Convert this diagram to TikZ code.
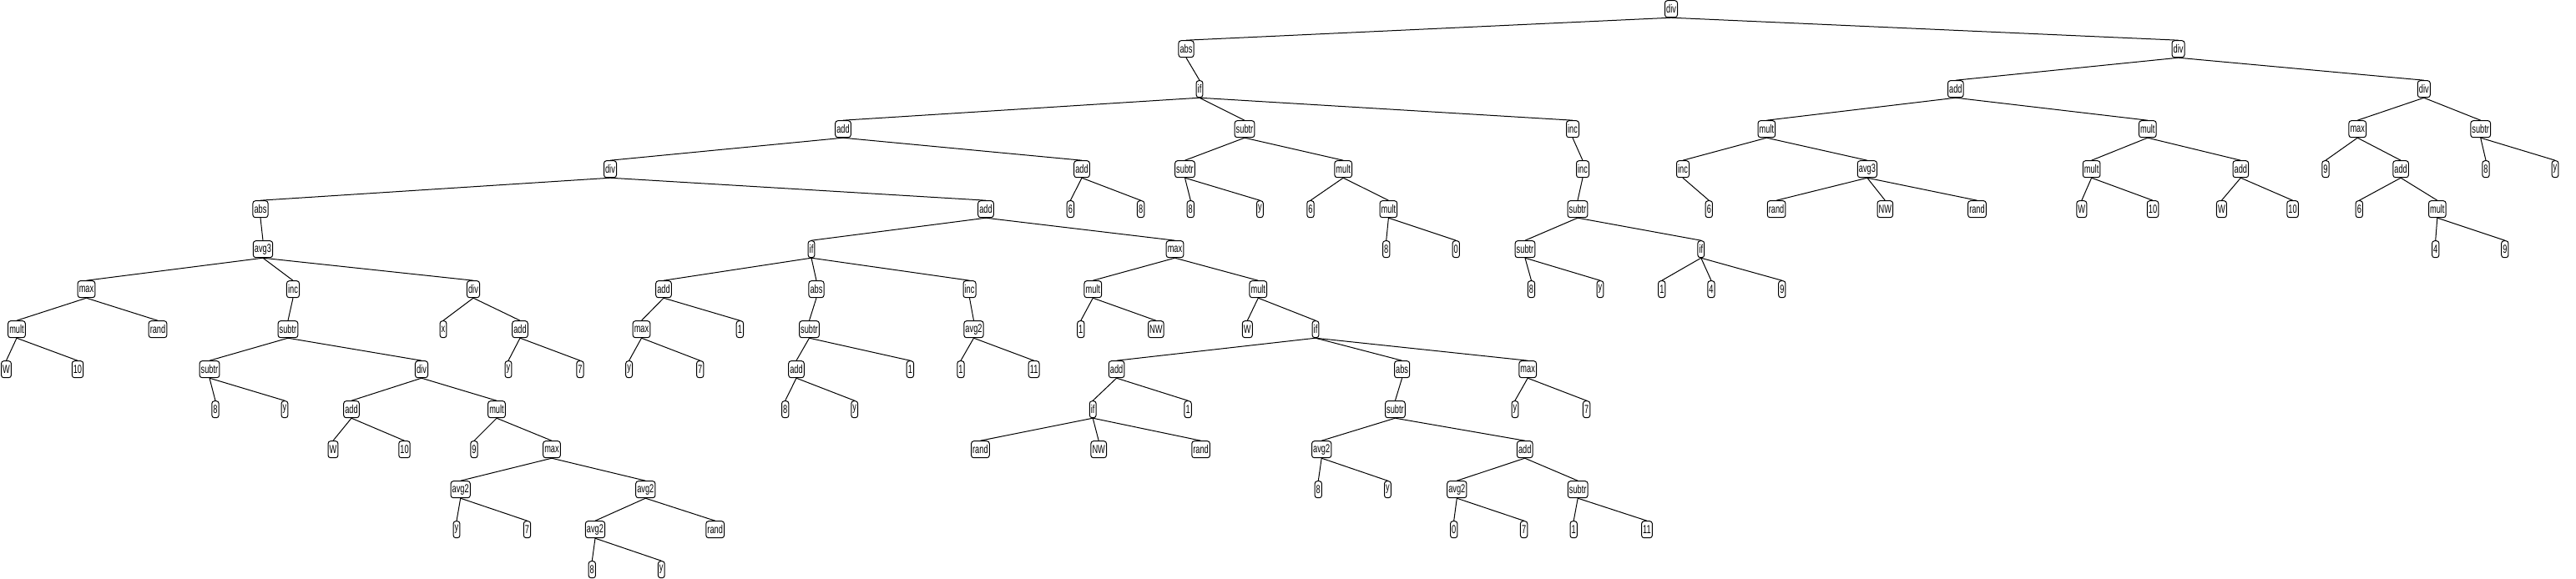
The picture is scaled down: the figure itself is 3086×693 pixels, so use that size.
\documentclass[tikz,border=0pt]{standalone}
\usepackage{fontspec}
\newfontfamily\nodefont[FakeStretch=0.66]{Liberation Sans}
\begin{document}
\begin{tikzpicture}[x=0.5pt,y=-0.5pt,
  nd/.style={draw, line width=0.5pt, rounded corners=1.5pt, inner xsep=0.8pt, inner ysep=0pt,
    minimum height=10pt, fill=white, font=\nodefont\fontsize{7}{8}\selectfont},
  edge/.style={line width=0.5pt}]
\useasboundingbox (0,0) rectangle (3086,693);
% levels: y = 10.7 + 48 L
% L0
\node[nd] (r) at (2002,10.7) {div};
% L1
\node[nd] (a) at (1421,58.7) {abs};
\node[nd] (R1) at (2609.5,58.7) {div};
% L2
\node[nd] (b) at (1437,106.7) {if};
\node[nd] (R2) at (2342.8,106.7) {add};
\node[nd] (R17) at (2903.8,106.7) {div};
% L3
\node[nd] (c1) at (1010,154.7) {add};
\node[nd] (c2) at (1491,154.7) {subtr};
\node[nd] (c3) at (1884,154.7) {inc};
\node[nd] (R3) at (2116.4,154.7) {mult};
\node[nd] (R10) at (2572.8,154.7) {mult};
\node[nd] (R18) at (2824.2,154.7) {max};
\node[nd] (R25) at (2971.7,154.7) {subtr};
% L4
\node[nd] (d1) at (731,202.7) {div};
\node[nd] (d2) at (1296,202.7) {add};
\node[nd] (d3) at (1419.5,202.7) {subtr};
\node[nd] (d4) at (1609.2,202.7) {mult};
\node[nd] (d5) at (1896,202.7) {inc};
\node[nd] (R4) at (2016,202.7) {inc};
\node[nd] (R6) at (2236.9,202.7) {avg3};
\node[nd] (R11) at (2505.6,202.7) {mult};
\node[nd] (R14) at (2684.3,202.7) {add};
\node[nd] (R19) at (2786,202.7) {9};
\node[nd] (R20) at (2876.1,202.7) {add};
\node[nd] (R26) at (2978,202.7) {8};
\node[nd] (R27) at (3061,202.7) {y};
% L5
\node[nd] (e1) at (312,250.7) {abs};
\node[nd] (e2) at (1181,250.7) {add};
\node[nd] (e3) at (1282.4,250.7) {6};
\node[nd] (e4) at (1366.6,250.7) {8};
\node[nd] (e5) at (1426.3,250.7) {8};
\node[nd] (e6) at (1509.4,250.7) {y};
\node[nd] (e7) at (1570,250.7) {6};
\node[nd] (e8) at (1663.4,250.7) {mult};
\node[nd] (e9) at (1890,250.7) {subtr};
\node[nd] (R5) at (2047.3,250.7) {6};
\node[nd] (R7) at (2128.1,250.7) {rand};
\node[nd] (R8) at (2258.3,250.7) {NW};
\node[nd] (R9) at (2368.5,250.7) {rand};
\node[nd] (R12) at (2493.8,250.7) {W};
\node[nd] (R13) at (2579,250.7) {10};
\node[nd] (R15) at (2661.4,250.7) {W};
\node[nd] (R16) at (2746.6,250.7) {10};
\node[nd] (R21) at (2826.3,250.7) {6};
\node[nd] (R22) at (2919.8,250.7) {mult};
% L6
\node[nd] (f1) at (315,298.7) {avg3};
\node[nd] (f2) at (972,298.7) {if};
\node[nd] (f3) at (1407.5,298.7) {max};
\node[nd] (f4) at (1660.7,298.7) {8};
\node[nd] (f5) at (1744.3,298.7) {0};
\node[nd] (f6) at (1827,298.7) {subtr};
\node[nd] (f7) at (2037.8,298.7) {if};
\node[nd] (R23) at (2917.7,298.7) {4};
\node[nd] (R24) at (3000.8,298.7) {9};
% L7
\node[nd] (g1) at (103.5,346.7) {max};
\node[nd] (g2) at (351,346.7) {inc};
\node[nd] (g3) at (567,346.7) {div};
\node[nd] (g4) at (795,346.7) {add};
\node[nd] (g5) at (978,346.7) {abs};
\node[nd] (g6) at (1161.5,346.7) {inc};
\node[nd] (g7) at (1309.3,346.7) {mult};
\node[nd] (g8) at (1507.3,346.7) {mult};
\node[nd] (g9) at (1834.5,346.7) {8};
\node[nd] (g10) at (1917,346.7) {y};
\node[nd] (g11) at (1990.8,346.7) {1};
\node[nd] (g12) at (2050,346.7) {4};
\node[nd] (g13) at (2134.8,346.7) {9};
% L8
\node[nd] (h1) at (20,394.7) {mult};
\node[nd] (h2) at (189,394.7) {rand};
\node[nd] (h3) at (345,394.7) {subtr};
\node[nd] (h4) at (531,394.7) {x};
\node[nd] (h5) at (623,394.7) {add};
\node[nd] (h6) at (768.5,394.7) {max};
\node[nd] (h7) at (886.4,394.7) {1};
\node[nd] (h8) at (969.5,394.7) {subtr};
\node[nd] (h9) at (1166.5,394.7) {avg2};
\node[nd] (h10) at (1294.8,394.7) {1};
\node[nd] (h11) at (1384.8,394.7) {NW};
\node[nd] (h12) at (1494.3,394.7) {W};
\node[nd] (h13) at (1576,394.7) {if};
% L9
\node[nd] (i1) at (7.5,442.7) {W};
\node[nd] (i2) at (93,442.7) {10};
\node[nd] (i3) at (251,442.7) {subtr};
\node[nd] (i4) at (505,442.7) {div};
\node[nd] (i5) at (609,442.7) {y};
\node[nd] (i6) at (695,442.7) {7};
\node[nd] (i7) at (753.6,442.7) {y};
\node[nd] (i8) at (838.7,442.7) {7};
\node[nd] (i9) at (954,442.7) {add};
\node[nd] (i10) at (1090.4,442.7) {1};
\node[nd] (i11) at (1151,442.7) {1};
\node[nd] (i12) at (1238.6,442.7) {11};
\node[nd] (i13) at (1337.6,442.7) {add};
\node[nd] (i14) at (1679.6,442.7) {abs};
\node[nd] (i15) at (1830.2,442.7) {max};
% L10
\node[nd] (j1) at (258,490.7) {8};
\node[nd] (j2) at (341,490.7) {y};
\node[nd] (j3) at (421,490.7) {add};
\node[nd] (j4) at (595,490.7) {mult};
\node[nd] (j5) at (940.7,490.7) {8};
\node[nd] (j6) at (1023.7,490.7) {y};
\node[nd] (j7) at (1309.2,490.7) {if};
\node[nd] (j8) at (1423.1,490.7) {1};
\node[nd] (j9) at (1671.4,490.7) {subtr};
\node[nd] (j10) at (1814.9,490.7) {y};
\node[nd] (j11) at (1900.6,490.7) {7};
% L11
\node[nd] (k1) at (399,538.7) {W};
\node[nd] (k2) at (484.5,538.7) {10};
\node[nd] (k3) at (568,538.7) {9};
\node[nd] (k4) at (661,538.7) {max};
\node[nd] (k5) at (1174.4,538.7) {rand};
\node[nd] (k6) at (1316.2,538.7) {NW};
\node[nd] (k7) at (1438.6,538.7) {rand};
\node[nd] (k8) at (1583.2,538.7) {avg2};
\node[nd] (k9) at (1826.7,538.7) {add};
% L12
\node[nd] (l1) at (551.7,586.7) {avg2};
\node[nd] (l2) at (773.3,586.7) {avg2};
\node[nd] (l3) at (1579.3,586.7) {8};
\node[nd] (l4) at (1662.4,586.7) {y};
\node[nd] (l5) at (1745.3,586.7) {avg2};
\node[nd] (l6) at (1890.2,586.7) {subtr};
% L13
\node[nd] (m1) at (547,634.7) {y};
\node[nd] (m2) at (631.5,634.7) {7};
\node[nd] (m3) at (713,634.7) {avg2};
\node[nd] (m4) at (856.7,634.7) {rand};
\node[nd] (m5) at (1741.7,634.7) {0};
\node[nd] (m6) at (1825.6,634.7) {7};
\node[nd] (m7) at (1885.2,634.7) {1};
\node[nd] (m8) at (1973,634.7) {11};
% L14
\node[nd] (n1) at (709.3,682.7) {8};
\node[nd] (n2) at (792.3,682.7) {y};
% edges
\foreach \p/\c in {r/a, r/R1, a/b, b/c1, b/c2, b/c3,
  c1/d1, c1/d2, d1/e1, d1/e2, d2/e3, d2/e4,
  e1/f1, f1/g1, f1/g2, f1/g3, g1/h1, g1/h2, h1/i1, h1/i2,
  g2/h3, h3/i3, h3/i4, i3/j1, i3/j2, i4/j3, i4/j4, j3/k1, j3/k2, j4/k3, j4/k4,
  k4/l1, k4/l2, l1/m1, l1/m2, l2/m3, l2/m4, m3/n1, m3/n2,
  g3/h4, g3/h5, h5/i5, h5/i6,
  e2/f2, e2/f3, f2/g4, f2/g5, f2/g6, g4/h6, g4/h7, h6/i7, h6/i8,
  g5/h8, h8/i9, h8/i10, i9/j5, i9/j6, g6/h9, h9/i11, h9/i12,
  f3/g7, f3/g8, g7/h10, g7/h11, g8/h12, g8/h13,
  h13/i13, h13/i14, h13/i15, i13/j7, i13/j8, j7/k5, j7/k6, j7/k7,
  i14/j9, j9/k8, j9/k9, k8/l3, k8/l4, k9/l5, k9/l6, l5/m5, l5/m6, l6/m7, l6/m8,
  i15/j10, i15/j11,
  c2/d3, c2/d4, d3/e5, d3/e6, d4/e7, d4/e8, e8/f4, e8/f5,
  c3/d5, d5/e9, e9/f6, e9/f7, f6/g9, f6/g10, f7/g11, f7/g12, f7/g13,
  R1/R2, R1/R17, R2/R3, R2/R10, R3/R4, R3/R6, R4/R5, R6/R7, R6/R8, R6/R9,
  R10/R11, R10/R14, R11/R12, R11/R13, R14/R15, R14/R16,
  R17/R18, R17/R25, R18/R19, R18/R20, R20/R21, R20/R22, R22/R23, R22/R24,
  R25/R26, R25/R27}
  \draw[edge] (\p.south) -- (\c.north);
\end{tikzpicture}
\end{document}
